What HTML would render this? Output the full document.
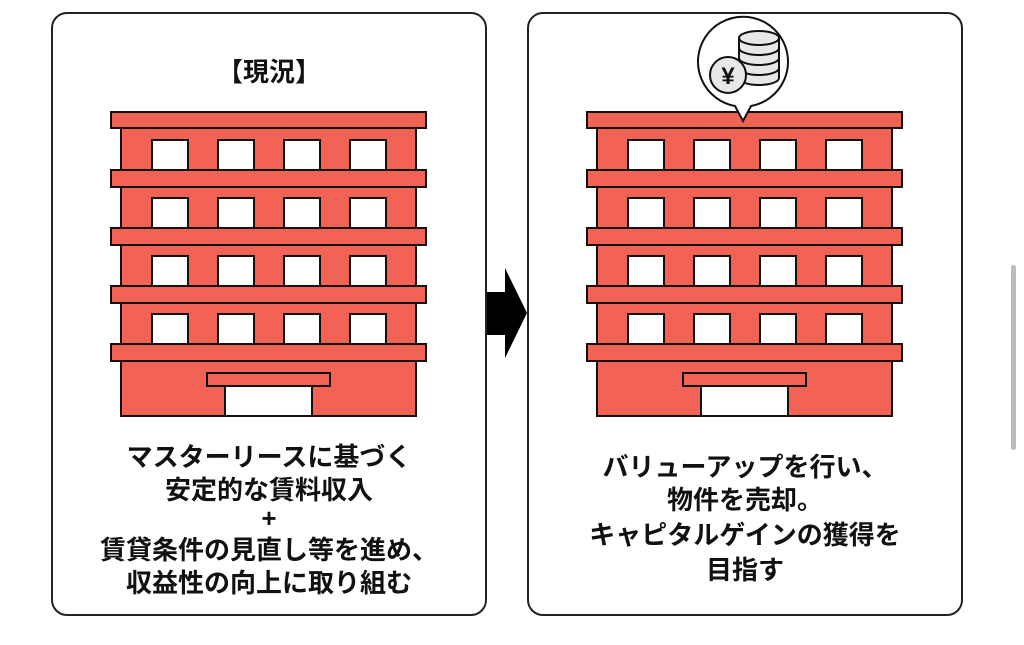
<!DOCTYPE html>
<html><head><meta charset="utf-8"><style>
body{margin:0;width:1024px;height:645px;background:#fff;position:relative;overflow:hidden;font-family:"Liberation Sans","Noto Sans CJK JP",sans-serif;}
.panel{position:absolute;top:12px;width:436px;height:604px;border:2px solid #222;border-radius:16px;box-sizing:border-box;}
.l{position:absolute;width:436px;text-align:center;font-weight:bold;font-size:26px;color:#111;line-height:30px;}
</style></head><body>
<div class="panel" style="left:51px"></div>
<div class="panel" style="left:527px"></div>
<div class="l" style="left:51px;top:57px">【現況】</div>
<div class="l" style="left:51px;top:442px">マスターリースに基づく</div>
<div class="l" style="left:51px;top:475px">安定的な賃料収入</div>
<div class="l" style="left:51px;top:503px">+</div>
<div class="l" style="left:51px;top:535px">賃貸条件の見直し等を進め、</div>
<div class="l" style="left:51px;top:568px">収益性の向上に取り組む</div>
<div class="l" style="left:527px;top:452px">バリューアップを行い、</div>
<div class="l" style="left:527px;top:485px">物件を売却。</div>
<div class="l" style="left:527px;top:520px">キャピタルゲインの獲得を</div>
<div class="l" style="left:527px;top:555px">目指す</div>
<svg width="1024" height="645" style="position:absolute;left:0;top:0">
<defs>
<g id="b" stroke="#111" stroke-width="2">
<rect x="121" y="120" width="295" height="296" fill="#f26355"/>
<g fill="#fff">
<rect x="152" y="140" width="36" height="30"/><rect x="218" y="140" width="36" height="30"/><rect x="284" y="140" width="36" height="30"/><rect x="350" y="140" width="36" height="30"/>
<rect x="152" y="198" width="36" height="30"/><rect x="218" y="198" width="36" height="30"/><rect x="284" y="198" width="36" height="30"/><rect x="350" y="198" width="36" height="30"/>
<rect x="152" y="256" width="36" height="30"/><rect x="218" y="256" width="36" height="30"/><rect x="284" y="256" width="36" height="30"/><rect x="350" y="256" width="36" height="30"/>
<rect x="152" y="314" width="36" height="30"/><rect x="218" y="314" width="36" height="30"/><rect x="284" y="314" width="36" height="30"/><rect x="350" y="314" width="36" height="30"/>
<rect x="225" y="386" width="87" height="30"/>
</g>
<g fill="#f26355">
<rect x="111" y="112" width="315" height="16"/>
<rect x="111" y="170" width="315" height="17"/>
<rect x="111" y="228" width="315" height="17"/>
<rect x="111" y="286" width="315" height="17"/>
<rect x="111" y="344" width="315" height="17"/>
<rect x="207" y="373" width="123" height="13"/>
</g>
</g>
</defs>
<use href="#b"/>
<use href="#b" x="476"/>
<polygon points="487,292 505,292 505,268 527,313 505,358 505,335 487,335" fill="#000"/>
<rect x="1011" y="265" width="5" height="185" rx="2.5" fill="#bbb"/>
<g stroke="#111" stroke-width="2">
<path d="M735,106 A45,45 0 1 1 751,106 L743,121 Z" fill="#fff"/>
<g fill="#e8e8e8">
<path d="M739,38 v40 a20,7 0 0 0 40,0 v-40"/>
<ellipse cx="759" cy="38" rx="20" ry="7"/>
<path d="M739,48 a20,7 0 0 0 40,0 M739,58 a20,7 0 0 0 40,0 M739,68 a20,7 0 0 0 40,0" fill="none"/>
<circle cx="728" cy="75" r="18"/>
</g>
</g>
<text x="728" y="84" text-anchor="middle" font-size="24" font-weight="bold" fill="#111" font-family="Liberation Sans,sans-serif">¥</text>
</svg>
</body></html>
